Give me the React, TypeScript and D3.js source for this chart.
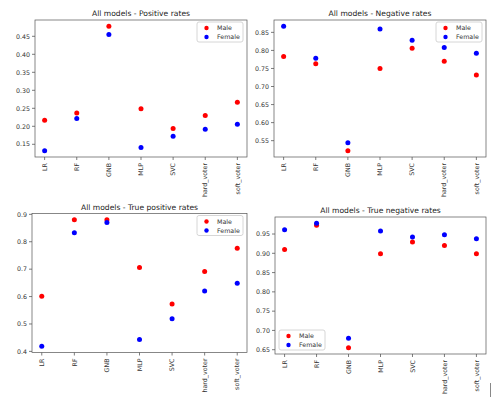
import React, { useRef, useEffect } from 'react';
import * as d3 from 'd3';

const models = ['LR', 'RF', 'GNB', 'MLP', 'SVC', 'hard_voter', 'soft_voter'];

const posMale = [0.217, 0.237, 0.478, 0.249, 0.194, 0.230, 0.267];
const posFemale = [0.132, 0.222, 0.455, 0.141, 0.172, 0.192, 0.206];

const negMale = [0.783, 0.763, 0.522, 0.750, 0.806, 0.770, 0.732];
const negFemale = [0.867, 0.778, 0.544, 0.859, 0.828, 0.808, 0.792];

const tprMale = [0.601, 0.880, 0.880, 0.706, 0.573, 0.691, 0.776];
const tprFemale = [0.419, 0.833, 0.870, 0.443, 0.519, 0.620, 0.649];

const tnrMale = [0.910, 0.973, 0.655, 0.899, 0.929, 0.920, 0.899];
const tnrFemale = [0.961, 0.978, 0.680, 0.958, 0.942, 0.948, 0.938];

const posTicks = [0.15, 0.2, 0.25, 0.3, 0.35, 0.4, 0.45];
const negTicks = [0.55, 0.6, 0.65, 0.7, 0.75, 0.8, 0.85];
const tprTicks = [0.4, 0.5, 0.6, 0.7, 0.8, 0.9];
const tnrTicks = [0.65, 0.7, 0.75, 0.8, 0.85, 0.9, 0.95];

interface Panel {
  title: string;
  male: number[];
  female: number[];
  ticks: number[];
  fmt: string;
  box: [number, number, number, number]; // left, top, right, bottom
  legend: 'ur' | 'll';
}

const panels: Panel[] = [
  { title: 'All models - Positive rates', male: posMale, female: posFemale, ticks: posTicks, fmt: '.2f', box: [35, 20, 247, 157], legend: 'ur' },
  { title: 'All models - Negative rates', male: negMale, female: negFemale, ticks: negTicks, fmt: '.2f', box: [274, 20, 486, 157], legend: 'ur' },
  { title: 'All models - True positive rates', male: tprMale, female: tprFemale, ticks: tprTicks, fmt: '.1f', box: [32, 213.5, 247, 352.5], legend: 'ur' },
  { title: 'All models - True negative rates', male: tnrMale, female: tnrFemale, ticks: tnrTicks, fmt: '.2f', box: [275, 217, 486, 354], legend: 'll' },
];

const FONT = 'DejaVu Sans, sans-serif';
const TICK_SIZE = 6.3;
const TITLE_SIZE = 7.6;

const App: React.FC = () => {
  const svgRef = useRef<SVGSVGElement | null>(null);

  useEffect(() => {
    const svg = d3.select(svgRef.current);
    svg.selectAll('*').remove();

    svg.append('rect').attr('width', 500).attr('height', 397).attr('fill', '#fff');

    panels.forEach(p => {
      const [l, t, r, b] = p.box;
      const all = [...p.male, ...p.female];
      const lo = d3.min(all) as number;
      const hi = d3.max(all) as number;
      const pad = (hi - lo) * 0.05;

      const x = d3.scaleLinear().domain([-0.3, models.length - 1 + 0.3]).range([l, r]);
      const y = d3.scaleLinear().domain([lo - pad, hi + pad]).range([b, t]);

      const g = svg.append('g');

      // y axis ticks
      const yAxis = g.append('g').attr('font-family', FONT).attr('font-size', TICK_SIZE).attr('fill', '#333');
      p.ticks.forEach(v => {
        yAxis.append('line')
          .attr('x1', l - 3).attr('x2', l)
          .attr('y1', y(v)).attr('y2', y(v))
          .attr('stroke', '#444').attr('stroke-width', 0.7);
        yAxis.append('text')
          .attr('x', l - 5).attr('y', y(v))
          .attr('dy', '0.35em')
          .attr('text-anchor', 'end')
          .text(d3.format(p.fmt)(v));
      });

      // x axis ticks
      models.forEach((m, i) => {
        g.append('line')
          .attr('x1', x(i)).attr('x2', x(i))
          .attr('y1', b).attr('y2', b + 3)
          .attr('stroke', '#444').attr('stroke-width', 0.7);
        g.append('text')
          .attr('transform', `translate(${x(i)},${b + 6}) rotate(-90)`)
          .attr('text-anchor', 'end')
          .attr('dy', '0.35em')
          .attr('font-family', FONT)
          .attr('font-size', TICK_SIZE)
          .attr('fill', '#333')
          .text(m);
      });

      // frame
      g.append('rect')
        .attr('x', l).attr('y', t)
        .attr('width', r - l).attr('height', b - t)
        .attr('fill', 'none').attr('stroke', '#555').attr('stroke-width', 0.7);

      // title
      g.append('text')
        .attr('x', (l + r) / 2).attr('y', t - 4)
        .attr('text-anchor', 'middle')
        .attr('font-family', FONT)
        .attr('font-size', TITLE_SIZE)
        .attr('fill', '#222')
        .text(p.title);

      // points
      const series = [
        { name: 'Male', vals: p.male, color: '#ff0000' },
        { name: 'Female', vals: p.female, color: '#0000ff' },
      ];
      series.forEach(s => {
        g.selectAll(null)
          .data(s.vals)
          .enter()
          .append('circle')
          .attr('cx', (_d, i) => x(i))
          .attr('cy', d => y(d))
          .attr('r', 2.5)
          .attr('fill', s.color);
      });

      // legend
      const lw = 46;
      const lh = 20;
      const lx = p.legend === 'ur' ? r - lw - 4 : l + 4;
      const ly = p.legend === 'ur' ? t + 2 : b - lh - 4;
      const leg = g.append('g').attr('transform', `translate(${lx},${ly})`);
      leg.append('rect')
        .attr('width', lw).attr('height', lh)
        .attr('rx', 2)
        .attr('fill', '#fff').attr('fill-opacity', 0.8)
        .attr('stroke', '#ccc').attr('stroke-width', 0.8);
      series.forEach((s, i) => {
        leg.append('circle')
          .attr('cx', 9.5).attr('cy', 6 + i * 9)
          .attr('r', 2.2)
          .attr('fill', s.color);
        leg.append('text')
          .attr('x', 20).attr('y', 6 + i * 9)
          .attr('dy', '0.35em')
          .attr('font-family', FONT)
          .attr('font-size', TICK_SIZE)
          .attr('fill', '#333')
          .text(s.name);
      });
    });

    // stray mark bottom right
    svg.append('line')
      .attr('x1', 490.5).attr('x2', 490.5)
      .attr('y1', 383).attr('y2', 397)
      .attr('stroke', '#888').attr('stroke-width', 1);
  }, []);

  return (
    <div style={{ position: 'absolute', left: 0, top: 0 }}>
      <svg ref={svgRef} width={500} height={397} style={{ display: 'block' }}></svg>
    </div>
  );
};

export default App;
